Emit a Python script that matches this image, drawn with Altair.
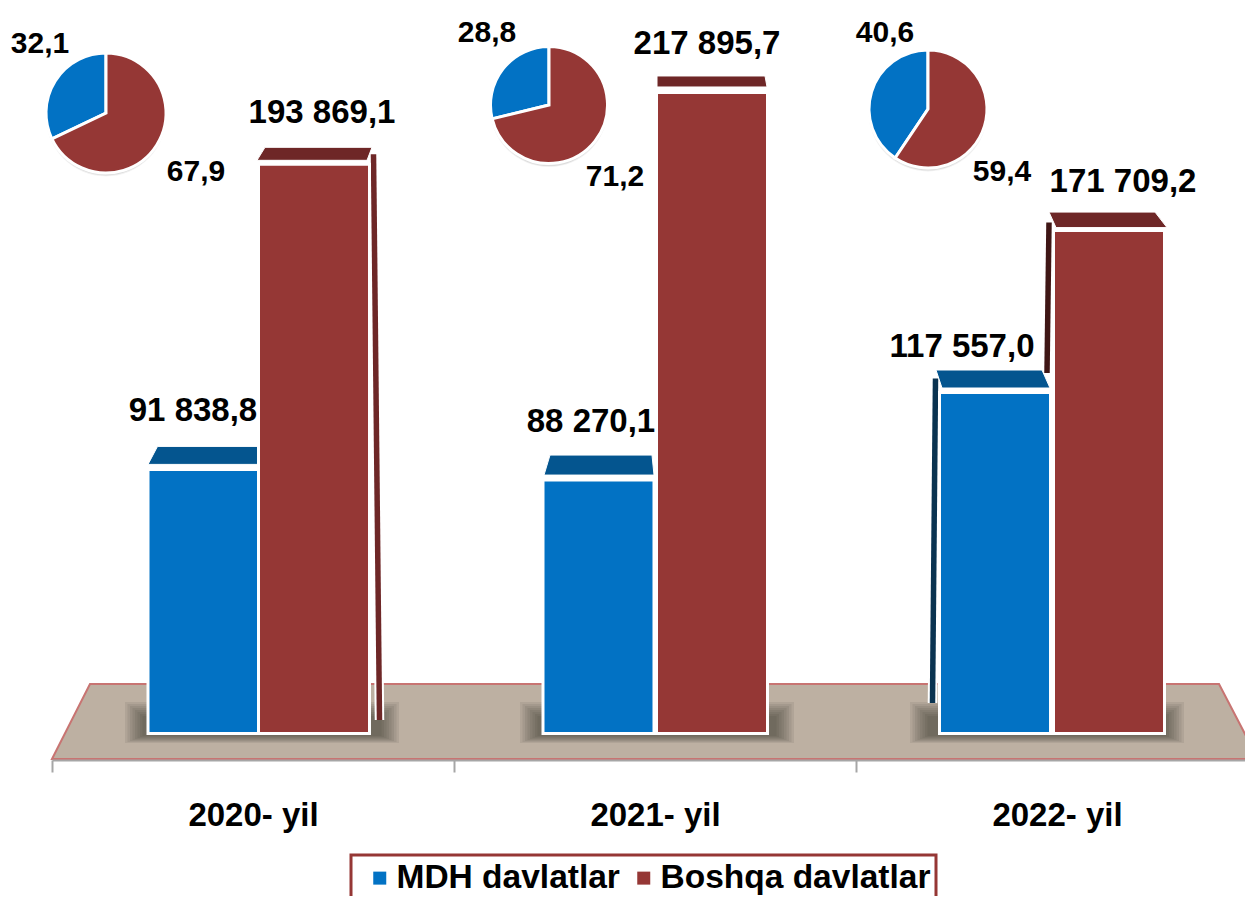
import altair as alt
import pandas as pd

YEARS = ["2020- yil", "2021- yil", "2022- yil"]
SERIES = ["MDH davlatlar", "Boshqa davlatlar"]
MDH_VALUES = [91838.8, 88270.1, 117557.0]
BOSHQA_VALUES = [193869.1, 217895.7, 171709.2]
MDH_LABELS = ["91 838,8", "88 270,1", "117 557,0"]
BOSHQA_LABELS = ["193 869,1", "217 895,7", "171 709,2"]
MDH_SHARE = [32.1, 28.8, 40.6]
BOSHQA_SHARE = [67.9, 71.2, 59.4]
MDH_SHARE_LABELS = ["32,1", "28,8", "40,6"]
BOSHQA_SHARE_LABELS = ["67,9", "71,2", "59,4"]

rows = []
for i, y in enumerate(YEARS):
    rows.append(dict(year=y, idx=i, series=SERIES[0], value=MDH_VALUES[i], label=MDH_LABELS[i],
                     share=MDH_SHARE[i], share_label=MDH_SHARE_LABELS[i], ord=1))
    rows.append(dict(year=y, idx=i, series=SERIES[1], value=BOSHQA_VALUES[i], label=BOSHQA_LABELS[i],
                     share=BOSHQA_SHARE[i], share_label=BOSHQA_SHARE_LABELS[i], ord=0))
df = pd.DataFrame(rows)

BLUE, RED = "#0272C4", "#953735"
FONT = "Liberation Sans"
PX_SCALE_X0, PX_STEP = 250, 398
Y_DOMAIN = [-5350, 246150]
BAR_FOOT = 3512  # the perspective floor sits this far up the value scale

x_q = alt.X("idx:Q", axis=None, scale=alt.Scale(domain=[0, 2], range=[PX_SCALE_X0, PX_SCALE_X0 + 2 * PX_STEP], padding=0))
y_q = alt.Y("value:Q", axis=None, scale=alt.Scale(domain=Y_DOMAIN, nice=False, zero=False))
legend = alt.Legend(
    orient="none", legendX=343, legendY=847, direction="horizontal", columns=2,
    title=" ", titleFontSize=1, titlePadding=0, padding=5,
    strokeColor=RED, symbolType="square", symbolSize=169, symbolStrokeWidth=0,
    symbolOffset=7, labelFont=FONT, labelFontSize=33.5, labelFontWeight="bold",
    labelColor="black", labelOffset=0, columnPadding=0, labelLimit=400,
)
color = alt.Color("series:N", scale=alt.Scale(domain=SERIES, range=[BLUE, RED]), legend=legend)


def off(i, screen_x):
    return screen_x - 8 - (PX_SCALE_X0 + PX_STEP * i)


def sel(i, s=None):
    d = df[df.idx == i]
    if s is not None:
        d = d[d.series == SERIES[s]]
    return alt.Chart(d.head(1) if s is None else d)


BARS = [
    (0, 0, 203.5, [(-55.5, -5), (-46, -23), (54.5, -23), (55.5, -5)], "#04558F", 193, -58),
    (0, 1, 314, [(-57, -4), (-49, -17), (58, -17), (53, -4)], "#6E2727", 322, -51),
    (1, 0, 598.5, [(-54.5, -5), (-48.5, -25), (53.5, -25), (55.5, -5)], "#04558F", 591, -58),
    (1, 1, 712, [(-55, -5.5), (-55, -16.5), (53, -16.5), (55, -5.5)], "#6E2727", 707, -48.5),
    (2, 0, 995, [(-53, -4.5), (-59, -22.5), (47, -22.5), (55, -4.5)], "#04558F", 962, -45.5),
    (2, 1, 1109, [(-53, -3), (-60, -18.5), (46, -18.5), (58, -3)], "#6E2727", 1123, -48.6),
]
SIDES = [
    (0, 1, 373.5, 379.5, 720, -10, "#6E2727"),
    (2, 0, 935.5, 932.5, 703, -14, "#0A3350"),
    (2, 1, 1049, 1047, 373, -8, "#3F1615"),
]
SHADOW_CENTRES = [262, 657, 1047]
PIES = [
    (0, 106, 113, 60, (40, 44), (196, 172)),
    (1, 549, 105, 58.5, (487, 33), (615, 177)),
    (2, 928, 109, 59, (885, 33), (1002, 172)),
]


def poly(points):
    return "M" + " L".join(f"{a},{b}" for a, b in points) + " Z"


layers = []

layers.append(
    alt.Chart(df).mark_bar(opacity=0).encode(
        x=alt.X("year:N", sort=YEARS, title=None,
                scale=alt.Scale(domain=YEARS, range=[44, 1250], paddingInner=0, paddingOuter=0),
                axis=alt.Axis(labelAngle=0, labelFont=FONT, labelFontSize=33, labelFontWeight="bold",
                              labelColor="black", labelPadding=27, tickSize=12, tickBand="extent",
                              tickColor="#A6A6A6", domainColor="#A6A6A6", tickWidth=2, domainWidth=2,
                              grid=False, zindex=1, labelLimit=400)),
        y=y_q,
    )
)

layers.append(
    sel(1).mark_point(
        shape=poly([(-604, 25), (-566, -50), (563, -50), (602, 25)]), size=4, filled=True,
        fill="#BDB0A2", stroke="#C87472", strokeWidth=2, opacity=1, xOffset=off(1, 656),
    ).encode(x=x_q, y=alt.value(726))
)

for i, cx in enumerate(SHADOW_CENTRES):
    for k in range(8):
        hw, top, bot = 137 - 2.5 * k, -32 + 2 * k, 9 - 1 * k
        layers.append(
            sel(i).mark_point(
                shape=poly([(-hw, bot), (-hw, top), (hw, top), (hw, bot)]), size=4, filled=True,
                fill="#2e2a26", strokeWidth=0, opacity=0.085, xOffset=off(i, cx),
            ).encode(x=x_q, y=alt.value(726))
        )

for g, s, xt, xb, yb, lift, col in SIDES:
    for w, c in ((9.5, "white"), (5.5, col)):
        layers.append(
            sel(g, s).mark_rule(
                strokeWidth=w, color=c, xOffset=off(g, xt), x2Offset=off(g, xb), yOffset=lift,
            ).encode(x=x_q, x2=alt.X2("idx:Q"), y=y_q, y2=alt.value(yb - 8))
        )

for g, s, cx, cap, cap_col, lx, ly in BARS:
    layers.append(
        sel(g, s).mark_bar(
            width=111, stroke="white", strokeWidth=3, xOffset=off(g, cx), opacity=1,
        ).encode(x=x_q, y=y_q, y2=alt.Y2(datum=BAR_FOOT), color=color)
    )
    layers.append(
        sel(g, s).mark_point(
            shape=poly(cap), size=4, filled=True, fill=cap_col, stroke="white", strokeWidth=1,
            opacity=1, xOffset=off(g, cx),
        ).encode(x=x_q, y=y_q)
    )
    layers.append(
        sel(g, s).mark_text(
            font=FONT, fontSize=33, fontWeight="bold", color="black", baseline="middle",
            xOffset=off(g, lx), yOffset=ly,
        ).encode(x=x_q, y=y_q, text="label:N")
    )

for g, cx, cy, rad, l0, l1 in PIES:
    px, py = cx - 8, cy - 8
    for r, op, dy in ((rad + 8, 0.07, 3), (rad + 7, 0.10, 3), (rad + 6, 0.15, 2)):
        layers.append(
            sel(g).mark_circle(color="#333333", opacity=op, size=3.14159 * r * r).encode(
                x=alt.value(px), y=alt.value(py + dy))
        )
    layers.append(
        sel(g).mark_circle(color="white", opacity=1, size=3.14159 * (rad + 4.5) ** 2).encode(
            x=alt.value(px), y=alt.value(py))
    )
    layers.append(
        alt.Chart(df[df.idx == g]).mark_arc(radius=rad, stroke="white", strokeWidth=3).encode(
            theta=alt.Theta("share:Q", stack=True, scale=alt.Scale(domain=[0, 100])),
            order=alt.Order("ord:Q"),
            color=color,
            x=alt.value(px), y=alt.value(py),
        )
    )
    for s, pos in ((0, l0), (1, l1)):
        layers.append(
            sel(g, s).mark_text(font=FONT, fontSize=30, fontWeight="bold", color="black",
                                baseline="middle").encode(
                x=alt.value(pos[0] - 8), y=alt.value(pos[1] - 8), text="share_label:N")
        )

chart = (
    alt.layer(*layers)
    .resolve_scale(x="independent")
    .properties(
        width=1237, height=752,
        autosize=alt.AutoSizeParams(type="none"),
        padding={"left": 0, "top": 0, "right": 0, "bottom": 136},
        background="white",
    )
    .configure_view(stroke=None)
    .configure_legend(strokeWidth=3)
)
chart.save("out.html", embed_options={"renderer": "svg", "actions": False})
